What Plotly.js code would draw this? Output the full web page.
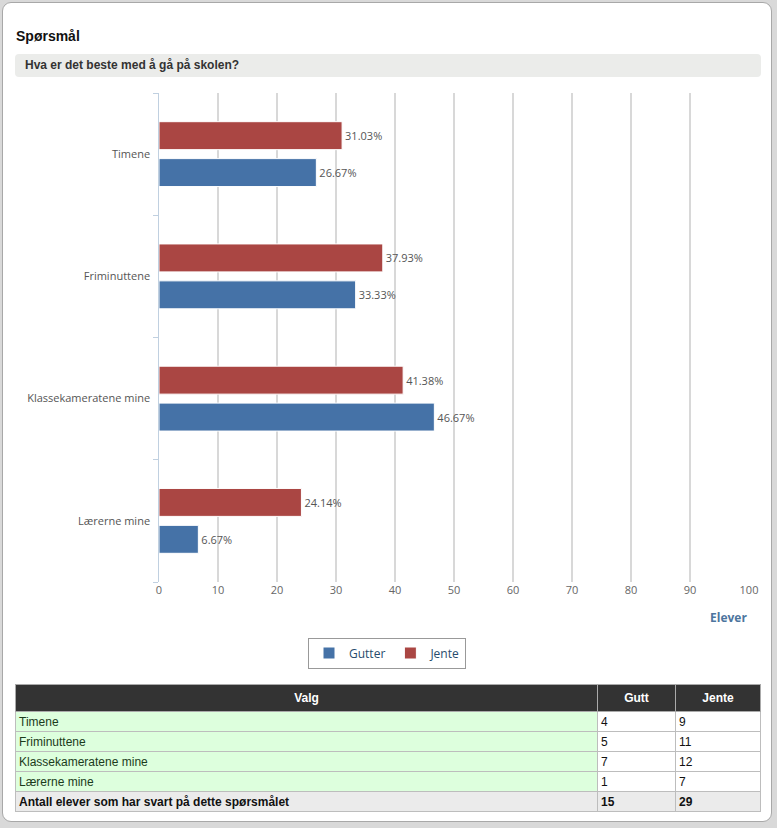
<!DOCTYPE html>
<html>
<head>
<meta charset="utf-8">
<script src="https://cdn.plot.ly/plotly-3.0.1.min.js"></script>
<style>
  html, body { margin:0; padding:0; width:777px; height:828px; background:#d9d9d9; overflow:hidden; }
  #box { position:absolute; left:2px; top:2px; width:770px; height:820px; background:#fff; border:1px solid #a8a8a8; border-radius:9px; box-sizing:border-box; }
  #heading { position:absolute; left:16px; top:28px; font:bold 14px "Liberation Sans", Arial, sans-serif; color:#111; }
  #question { position:absolute; left:15px; top:54px; width:746px; height:23px; background:#ebecea; border-radius:4px; font:bold 12px "Liberation Sans", Arial, sans-serif; color:#333; line-height:23px; padding-left:10px; box-sizing:border-box; }
  #chart { position:absolute; left:0; top:85px; width:777px; height:592px; }
  table { position:absolute; left:15px; top:684px; width:746px; border-collapse:collapse; font:12px "Liberation Sans Narrow", "Arial Narrow", "Liberation Sans", sans-serif; color:#111; }
  th { background:#333; color:#fff; font-weight:bold; height:24px; border:1px solid #aaa; text-align:center; }
  td { height:20px; border:1px solid #bdbdbd; padding:0 3px; box-sizing:border-box; }
  td.c1 { background:#ddffdd; color:#1b3b1b; }
  tr.sum td { background:#ebebeb; font-weight:bold; }
</style>
</head>
<body>
<div id="box"></div>
<div id="heading">Spørsmål</div>
<div id="question">Hva er det beste med å gå på skolen?</div>
<div id="chart"></div>
<table id="tbl"></table>
<script>
var categories = ["Timene", "Friminuttene", "Klassekameratene mine", "Lærerne mine"];
var gutterPct = [26.67, 33.33, 46.67, 6.67];
var jentePct = [31.03, 37.93, 41.38, 24.14];
var gutterCount = [4, 5, 7, 1];
var jenteCount = [9, 11, 12, 7];
var totalGutt = 15;
var totalJente = 29;
var seriesNames = ["Gutter", "Jente"];
var tableHeader = ["Valg", "Gutt", "Jente"];
var totalLabel = "Antall elever som har svart på dette spørsmålet";
var xTickVals = [0,10,20,30,40,50,60,70,80,90,100];

var fmt = function(v){ return v.toFixed(2) + "%"; };
var tfont = {family:"Open Sans, sans-serif", size:11, color:"#555"};

var traces = [
  {type:"bar", orientation:"h", name:seriesNames[0], y:categories, x:gutterPct,
   marker:{color:"#4572A7", line:{color:"#ffffff", width:1}},
   text:gutterPct.map(fmt), textposition:"outside", textfont:tfont, cliponaxis:false, hoverinfo:"x+y"},
  {type:"bar", orientation:"h", name:seriesNames[1], y:categories, x:jentePct,
   marker:{color:"#AA4643", line:{color:"#ffffff", width:1}},
   text:jentePct.map(fmt), textposition:"outside", textfont:tfont, cliponaxis:false, hoverinfo:"x+y"}
];

var layout = {
  width:777, height:592,
  margin:{l:159, r:28, t:8, b:95, autoexpand:false},
  paper_bgcolor:"rgba(0,0,0,0)", plot_bgcolor:"rgba(0,0,0,0)",
  barmode:"group", bargap:0.396, bargroupgap:0.243,
  showlegend:true,
  legend:{orientation:"h", x:387/777, xanchor:"center", xref:"container", y:1-568/592, yref:"container", yanchor:"middle",
          bordercolor:"#999", borderwidth:1, bgcolor:"#fff", itemwidth:30,
          font:{family:"Open Sans, sans-serif", size:12, color:"#274b6d"}, traceorder:"normal"},
  xaxis:{range:[0,100], tickvals:xTickVals, showgrid:true, gridcolor:"#d8d8d8", gridwidth:1.5,
         zeroline:false, showline:false, ticks:"", tickfont:{family:"Open Sans, sans-serif", size:11, color:"#666"},
         fixedrange:true},
  yaxis:{type:"category", categoryorder:"array", categoryarray:categories.slice().reverse(),
         showline:true, linecolor:"#C0D0E0", linewidth:1, ticks:"outside", tickson:"boundaries",
         ticklen:5, tickcolor:"#C0D0E0", showgrid:false, zeroline:false,
         tickfont:{family:"Open Sans, sans-serif", size:11, color:"#555"}, ticksuffix:"  ", fixedrange:true},
  annotations:[{text:"<b>Elever</b>", xref:"paper", yref:"paper", x:1, y:-35/489, xanchor:"right", yanchor:"middle",
                showarrow:false, font:{family:"Open Sans, sans-serif", size:12, color:"#4d759e"}}]
};

Plotly.newPlot("chart", traces, layout, {displayModeBar:false, staticPlot:true});

var tbl = document.getElementById("tbl");
var html = "<tr><th style='width:579px'>" + tableHeader[0] + "</th><th style='width:75px'>" + tableHeader[1] + "</th><th>" + tableHeader[2] + "</th></tr>";
for (var i = 0; i < categories.length; i++) {
  html += "<tr><td class='c1'>" + categories[i] + "</td><td>" + gutterCount[i] + "</td><td>" + jenteCount[i] + "</td></tr>";
}
html += "<tr class='sum'><td>" + totalLabel + "</td><td>" + totalGutt + "</td><td>" + totalJente + "</td></tr>";
tbl.innerHTML = html;
</script>
</body>
</html>
